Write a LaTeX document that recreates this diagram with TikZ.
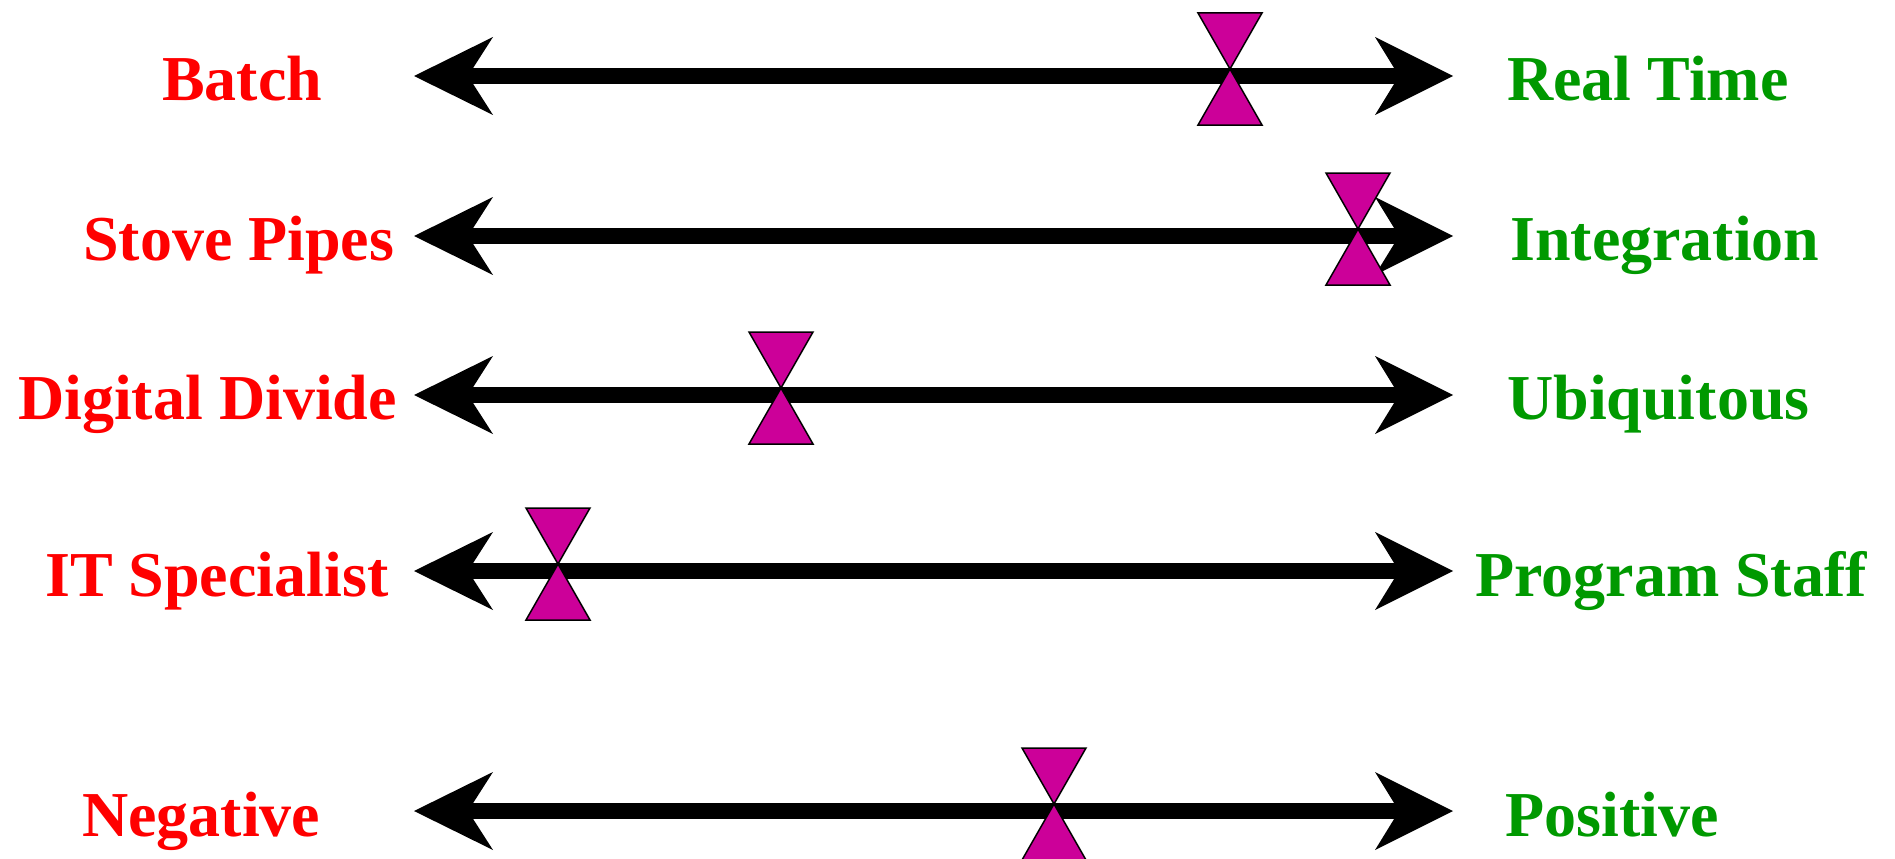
\documentclass[tikz,border=0pt]{standalone}
\usepackage{fontspec}
\setmainfont{Liberation Serif}
\definecolor{lblred}{HTML}{FF0000}
\definecolor{lblgreen}{HTML}{009900}
\definecolor{mark}{HTML}{CC0099}
\tikzset{
  leftlbl/.style={anchor=base west, inner sep=0pt, text=lblred, font=\fontsize{64}{70}\selectfont\bfseries},
  rightlbl/.style={anchor=base west, inner sep=0pt, text=lblgreen, font=\fontsize{64}{70}\selectfont\bfseries},
  shaft/.style={line width=16pt, black},
  headfill/.style={fill=black},
  markertri/.style={fill=mark, draw=black, line width=1.5pt, line join=miter}
}
\begin{document}
\begin{tikzpicture}[x=1pt,y=-1pt]
\useasboundingbox (0,0) rectangle (1895,859);
\fill[white] (0,0) rectangle (1895,859);
\foreach \i/\y/\m in {1/76/1230, 2/236/1358, 3/395/781, 4/571/558, 5/811/1054} {
  \coordinate (L\i) at (414,\y);
  \coordinate (R\i) at (1453,\y);
  \coordinate (M\i) at (\m,\y-7);
  \draw[shaft] ([xshift=50pt]L\i) -- ([xshift=-50pt]R\i);
  \fill[headfill] (L\i) -- ++(79,-39) -- ++(-25,39) -- ++(25,39) -- cycle;
  \fill[headfill] (R\i) -- ++(-78,-39) -- ++(24,39) -- ++(-24,39) -- cycle;
  \filldraw[markertri] (M\i) -- ++(-32,-56) -- ++(64,0) -- cycle;
  \filldraw[markertri] (M\i) -- ++(-32,56) -- ++(64,0) -- cycle;
}
\node[leftlbl] (l1) at (162,100) {Batch};
\node[leftlbl] (l2) at (83,260) {Stove Pipes};
\node[leftlbl] (l3) at (18,419) {Digital Divide};
\node[leftlbl] (l4) at (45,596) {IT Specialist};
\node[leftlbl] (l5) at (82,836) {Negative};
\node[rightlbl] (r1) at (1507,100) {Real Time};
\node[rightlbl] (r2) at (1510,260) {Integration};
\node[rightlbl] (r3) at (1507,419) {Ubiquitous};
\node[rightlbl] (r4) at (1475,596) {Program Staff};
\node[rightlbl] (r5) at (1505,836) {Positive};
\end{tikzpicture}
\end{document}
